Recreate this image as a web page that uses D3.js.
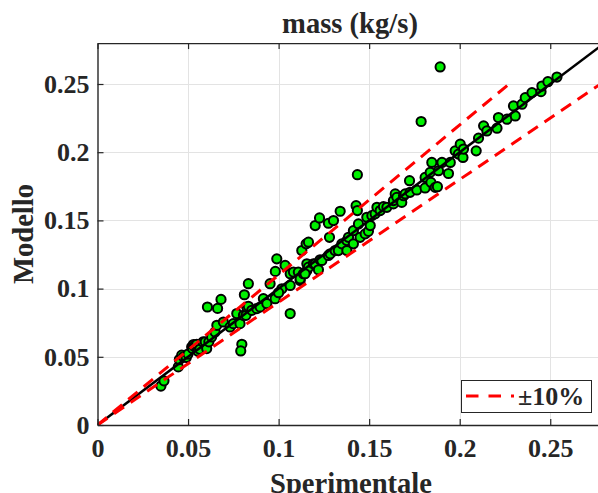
<!DOCTYPE html>
<html><head><meta charset="utf-8">
<script src="https://cdn.jsdelivr.net/npm/d3@7"></script>
<style>
html,body{margin:0;padding:0;background:#fff;}
svg text{font-family:"Liberation Serif","Times New Roman",serif;font-weight:bold;fill:#262626;}
</style></head>
<body>
<svg id="chart" width="598" height="493"></svg>
<script>
const title = "mass (kg/s)";
const xLabel = "Sperimentale";
const yLabel = "Modello";
const legendLabel = "\u00B110%";
const xTicks = [0, 0.05, 0.1, 0.15, 0.2, 0.25];
const yTicks = [0, 0.05, 0.1, 0.15, 0.2, 0.25];
const xTickLabels = ["0", "0.05", "0.1", "0.15", "0.2", "0.25"];
const yTickLabels = ["0", "0.05", "0.1", "0.15", "0.2", "0.25"];
const axisMax = 0.28;
const bandFactors = [1.1, 0.9];
const bandTop = 0.25;

// Sperimentale (x) and Modello (y)
const sperimentale = [
0.0350,0.0367,0.0446,0.0452,0.0465,0.0475,0.0490,0.0500,0.0520,0.0525,0.0530,0.0535,0.0540,0.0548,0.0555,0.0565,0.0583,0.0595,0.0603,0.0607,0.0615,0.0630,0.0649,0.0659,0.0663,0.0682,
0.0695,0.0732,0.0750,0.0769,0.0787,0.0797,0.0791,0.0806,0.0820,0.0824,0.0833,0.0811,0.0833,0.0852,0.0880,0.0898,0.0916,0.0935,0.0953,0.0981,0.0990,0.0982,0.1018,0.1000,0.1036,0.1064,0.1064,0.1064,0.1082,0.1109,0.1119,0.1119,0.1128,0.1137,0.1152,0.1156,0.1156,0.1165,0.1165,0.1146,0.1192,0.1202,0.1202,0.1220,0.1226,0.1229,0.1239,0.1275,0.1275,0.1281,0.1285,0.1303,0.1312,0.1330,0.1340,0.1349,0.1377,0.1377,0.1386,0.1413,0.1413,0.1428,0.1435,0.1435,0.1441,0.1450,0.1478,0.1487,0.1496,0.1506,0.1515,0.1533,0.1543,0.1561,0.1579,0.1598,0.1634,0.1634,0.1644,0.1653,0.1680,0.1690,0.1699,0.1723,0.1726,0.1763,0.1787,0.1809,0.1809,0.1837,0.1841,0.1846,0.1865,0.1877,0.1883,0.1892,0.1902,0.1938,0.1948,0.1975,0.1993,0.2003,0.2018,0.2021,0.2091,0.2104,0.2132,0.2150,0.2206,0.2214,0.2261,0.2297,0.2307,0.2344,0.2362,0.2399,0.2449,0.2454,0.2487,0.2537
];
const modello = [
0.0285,0.0324,0.0426,0.0480,0.0512,0.0500,0.0495,0.0520,0.0572,0.0560,0.0590,0.0575,0.0585,0.0592,0.0540,0.0555,0.0609,0.0610,0.0560,0.0865,0.0610,0.0645,0.0682,0.0731,0.0855,0.0921,
0.0755,0.0719,0.0743,0.0817,0.0743,0.0592,0.0543,0.0804,0.0804,0.0865,0.0870,0.0955,0.1036,0.0841,0.0853,0.0865,0.0926,0.0890,0.1036,0.0926,0.1218,0.1126,0.0999,0.0970,0.1170,0.0817,0.1023,0.1109,0.1121,0.1121,0.1060,0.1072,0.1279,0.1109,0.1328,0.1182,0.1133,0.1340,0.1157,0.1109,0.1182,0.1462,0.1182,0.1138,0.1518,0.1211,0.1206,0.1243,0.1479,0.1376,0.1255,0.1499,0.1279,0.1279,0.1567,0.1328,0.1279,0.1352,0.1376,0.1328,0.1425,0.1608,0.1572,0.1835,0.1474,0.1376,0.1401,0.1523,0.1420,0.1462,0.1535,0.1548,0.1596,0.1572,0.1601,0.1596,0.1621,0.1645,0.1694,0.1669,0.1632,0.1681,0.1694,0.1791,0.1706,0.1723,0.2225,0.1738,0.1815,0.1852,0.1779,0.1925,0.1742,0.1747,0.1864,0.2625,0.1925,0.1844,0.1925,0.2010,0.1986,0.2059,0.1961,0.2023,0.2010,0.2103,0.2193,0.2156,0.2176,0.2254,0.2242,0.2339,0.2266,0.2352,0.2400,0.2437,0.2444,0.2485,0.2517,0.2551
];

const svg = d3.select("#chart");
svg.append("rect").attr("width",598).attr("height",493).attr("fill","#fff");

const pLeft = 97.5, pBottom = 425;
const x = d3.scaleLinear().domain([0, axisMax]).range([pLeft, pLeft + axisMax*1811]);
const y = d3.scaleLinear().domain([0, axisMax]).range([pBottom, pBottom - axisMax*1364]);
const pTop = y(axisMax), pRight = x(axisMax);

svg.append("defs").append("clipPath").attr("id","clip")
  .append("rect").attr("x",pLeft).attr("y",pTop).attr("width",pRight-pLeft).attr("height",pBottom-pTop);

// grid
const grid = svg.append("g").attr("stroke","#e3e3e3").attr("stroke-width",1);
xTicks.slice(1).forEach(t => grid.append("line").attr("x1",Math.round(x(t))+0.5).attr("x2",Math.round(x(t))+0.5).attr("y1",pTop).attr("y2",pBottom));
yTicks.slice(1).forEach(t => grid.append("line").attr("y1",Math.round(y(t))+0.5).attr("y2",Math.round(y(t))+0.5).attr("x1",pLeft).attr("x2",pRight));

const plot = svg.append("g").attr("clip-path","url(#clip)");
const pts = sperimentale.map((v,i)=>({x:v,y:modello[i]}));
plot.selectAll("circle").data(pts).join("circle")
  .attr("cx",d=>x(d.x)).attr("cy",d=>y(d.y)).attr("r",4.6)
  .attr("fill","#00f000").attr("stroke","#000").attr("stroke-width",2);

const line = d3.line().x(d=>x(d[0])).y(d=>y(d[1]));
plot.append("path").attr("d",line([[0,0],[axisMax,axisMax]]))
  .attr("stroke","#000").attr("stroke-width",2.5).attr("fill","none");
bandFactors.forEach(f=>{
  plot.append("path").attr("d",line([[0,0],[bandTop/f,bandTop]]))
    .attr("stroke","#ff0000").attr("stroke-width",3).attr("fill","none")
    .attr("stroke-dasharray","12,8");
});

// axes box
const ax = svg.append("g");
const xAxisG = ax.append("g").attr("transform",`translate(0,${pBottom})`)
  .call(d3.axisBottom(x).tickValues(xTicks).tickFormat((d,i)=>xTickLabels[i]).tickSizeInner(-6).tickSizeOuter(0).tickPadding(14));
ax.append("g").attr("transform",`translate(0,${pTop})`)
  .call(d3.axisTop(x).tickValues(xTicks).tickFormat("").tickSizeInner(-6).tickSizeOuter(0));
ax.append("g").attr("transform",`translate(${pLeft},0)`)
  .call(d3.axisLeft(y).tickValues(yTicks).tickFormat((d,i)=>yTickLabels[i]).tickSizeInner(-6).tickSizeOuter(0).tickPadding(8));
ax.selectAll(".domain").attr("stroke","#262626").attr("stroke-width",1.4);
ax.selectAll(".tick line").attr("stroke","#262626").attr("stroke-width",1.2);
ax.selectAll(".tick text").style("font-family",'"Liberation Serif",serif').style("font-weight","bold").style("font-size","26px").attr("fill","#262626");

// titles
svg.append("text").attr("x",350).attr("y",33).attr("text-anchor","middle").style("font-size","28.6px").attr("fill","#000").text(title);
svg.append("text").attr("x",351).attr("y",493).attr("text-anchor","middle").style("font-size","28.6px").text(xLabel);
svg.append("text").attr("transform","translate(33,234) rotate(-90)").attr("text-anchor","middle").style("font-size","28.6px").text(yLabel);

// legend
const lg = svg.append("g");
lg.append("rect").attr("x",461.5).attr("y",380.5).attr("width",130).attr("height",32).attr("fill","#fff").attr("stroke","#262626").attr("stroke-width",1);
lg.append("line").attr("x1",466).attr("x2",514).attr("y1",396).attr("y2",396)
  .attr("stroke","#ff0000").attr("stroke-width",3).attr("stroke-dasharray","12.5,10");
lg.append("text").attr("x",518).attr("y",405).style("font-size","26px").attr("fill","#000").text(legendLabel);
</script>
</body></html>
